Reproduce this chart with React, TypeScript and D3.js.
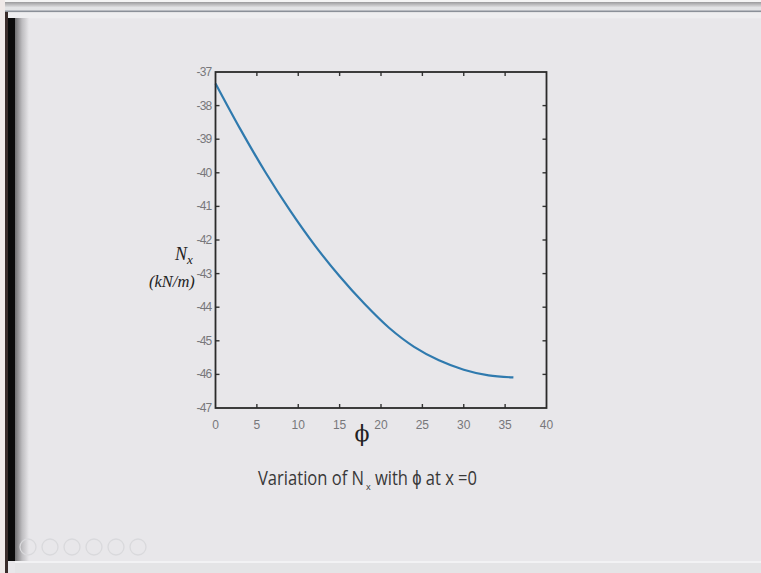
import React, { useLayoutEffect, useRef, useState } from "react";
import * as d3 from "d3";

const phiValues = [0, 3, 6, 9, 12, 15, 18, 21, 24, 27, 30, 33, 36];
const nxValues = [-37.34, -38.7, -39.97, -41.12, -42.16, -43.08, -43.9, -44.62, -45.18, -45.58, -45.86, -46.03, -46.09];
const xTicks = [0, 5, 10, 15, 20, 25, 30, 35, 40];
const yTicks = [-37, -38, -39, -40, -41, -42, -43, -44, -45, -46, -47];
const captionPartA = "Variation of N";
const captionSub = "x";
const captionPartB = "with ϕ at x =0";
const toolbarIcons = [0, 1, 2, 3, 4, 5];

export default function App() {
  const W = 761, H = 573;
  const left = 215.5, right = 546.5, top = 72, bottom = 408;
  const x = d3.scaleLinear().domain([0, 40]).range([left, right]);
  const y = d3.scaleLinear().domain([-47, -37]).range([bottom, top]);
  const line = d3.line<number>()
    .x((_, i) => x(phiValues[i]))
    .y((d) => y(d))
    .curve(d3.curveCatmullRom);
  const tl = 4;
  const tickFont = "Liberation Sans, Arial, sans-serif";

  const refA = useRef<SVGTextElement>(null);
  const refB = useRef<SVGTextElement>(null);
  const [sA, setSA] = useState(0.78);
  const [sB, setSB] = useState(0.78);
  const widthA = 106, widthB = 102;
  useLayoutEffect(() => {
    if (refA.current) {
      const w = refA.current.getComputedTextLength();
      if (w > 0) setSA(widthA / w);
    }
    if (refB.current) {
      const w = refB.current.getComputedTextLength();
      if (w > 0) setSB(widthB / w);
    }
  }, []);

  return (
    <svg width={W} height={H} style={{ position: "absolute", left: 0, top: 0 }}>
      <defs>
        <linearGradient id="lshadow" x1="0" x2="1" y1="0" y2="0">
          <stop offset="0" stopColor="#6e6e70" />
          <stop offset="0.5" stopColor="#bdbcbf" />
          <stop offset="1" stopColor="#e8e7ea" />
        </linearGradient>
        <linearGradient id="tshadow" x1="0" x2="0" y1="0" y2="1">
          <stop offset="0" stopColor="#9a9a9c" />
          <stop offset="1" stopColor="#dcdcde" />
        </linearGradient>
      </defs>
      <rect x={0} y={0} width={W} height={H} fill="#e8e7ea" />
      {/* top bar */}
      <rect x={0} y={0} width={W} height={2} fill="#f4f4f4" />
      <rect x={0} y={2} width={W} height={5} fill="url(#tshadow)" />
      <rect x={0} y={7} width={W} height={3.5} fill="#e2e3e5" />
      <rect x={0} y={10.5} width={W} height={1.8} fill="#8a9098" />
      <rect x={0} y={12.3} width={W} height={6} fill="#eeeef0" />
      {/* left edge */}
      <rect x={0} y={0} width={5} height={H} fill="#efe9e8" />
      <rect x={5} y={12} width={3} height={H} fill="#3a2c2a" />
      <rect x={8} y={18} width={7} height={H - 30} fill="#0a0a0a" />
      <rect x={15} y={18} width={14} height={H - 30} fill="url(#lshadow)" />
      {/* bottom strip */}
      <rect x={15} y={561} width={W} height={2} fill="#f2f2f4" />
      <rect x={15} y={563} width={W} height={10} fill="#e4e4e6" />
      {toolbarIcons.map((i) => (
        <circle key={i} cx={28 + i * 22} cy={547} r={8} fill="none" stroke="#d9d9dc" strokeWidth={1.3} />
      ))}

      {/* plot */}
      <path d={line(nxValues) || ""} fill="none" stroke="#2f7aae" strokeWidth={2.2} />
      {xTicks.slice(1, -1).map((t) => (
        <g key={"xt" + t}>
          <line x1={x(t)} x2={x(t)} y1={bottom} y2={bottom - tl} stroke="#333" strokeWidth={1.4} />
          <line x1={x(t)} x2={x(t)} y1={top} y2={top + tl} stroke="#333" strokeWidth={1.4} />
        </g>
      ))}
      {yTicks.slice(1, -1).map((t) => (
        <g key={"yt" + t}>
          <line x1={left} x2={left + tl} y1={y(t)} y2={y(t)} stroke="#333" strokeWidth={1.4} />
          <line x1={right} x2={right - tl} y1={y(t)} y2={y(t)} stroke="#333" strokeWidth={1.4} />
        </g>
      ))}
      <rect x={left} y={top} width={right - left} height={bottom - top} fill="none" stroke="#2a2a2a" strokeWidth={1.8} />
      {xTicks.map((t) => (
        <text key={"xl" + t} x={x(t)} y={428.5} textAnchor="middle" fontFamily={tickFont} fontSize={12} fill="#77777a">
          {t}
        </text>
      ))}
      {yTicks.map((t) => (
        <text key={"yl" + t} x={211.5} y={y(t) + 4} textAnchor="end" fontFamily={tickFont} fontSize={12} fill="#77777a" letterSpacing={-0.8}>
          {t}
        </text>
      ))}
      {/* axis labels */}
      <text x={362} y={441} textAnchor="middle" fontFamily="DejaVu Serif, serif" fontSize={22} fill="#222">
        ϕ
      </text>
      <text x={175} y={260} fontFamily="Liberation Serif, serif" fontStyle="italic" fontSize={18} fill="#222">
        N
        <tspan dy={4} fontSize={13}>x</tspan>
      </text>
      <text x={149} y={287} fontFamily="Liberation Serif, serif" fontStyle="italic" fontSize={16.5} fill="#222">
        (kN/m)
      </text>
      {/* caption */}
      <text ref={refA} transform={`translate(258,485) scale(${sA},1)`} fontFamily="Open Sans, sans-serif" fontSize={20} fill="#383838">
        {captionPartA}
      </text>
      <text x={366} y={490} fontFamily="Open Sans, sans-serif" fontSize={9} fill="#383838">{captionSub}</text>
      <text ref={refB} transform={`translate(375,485) scale(${sB},1)`} fontFamily="Open Sans, sans-serif" fontSize={20} fill="#383838">
        {captionPartB}
      </text>
    </svg>
  );
}
